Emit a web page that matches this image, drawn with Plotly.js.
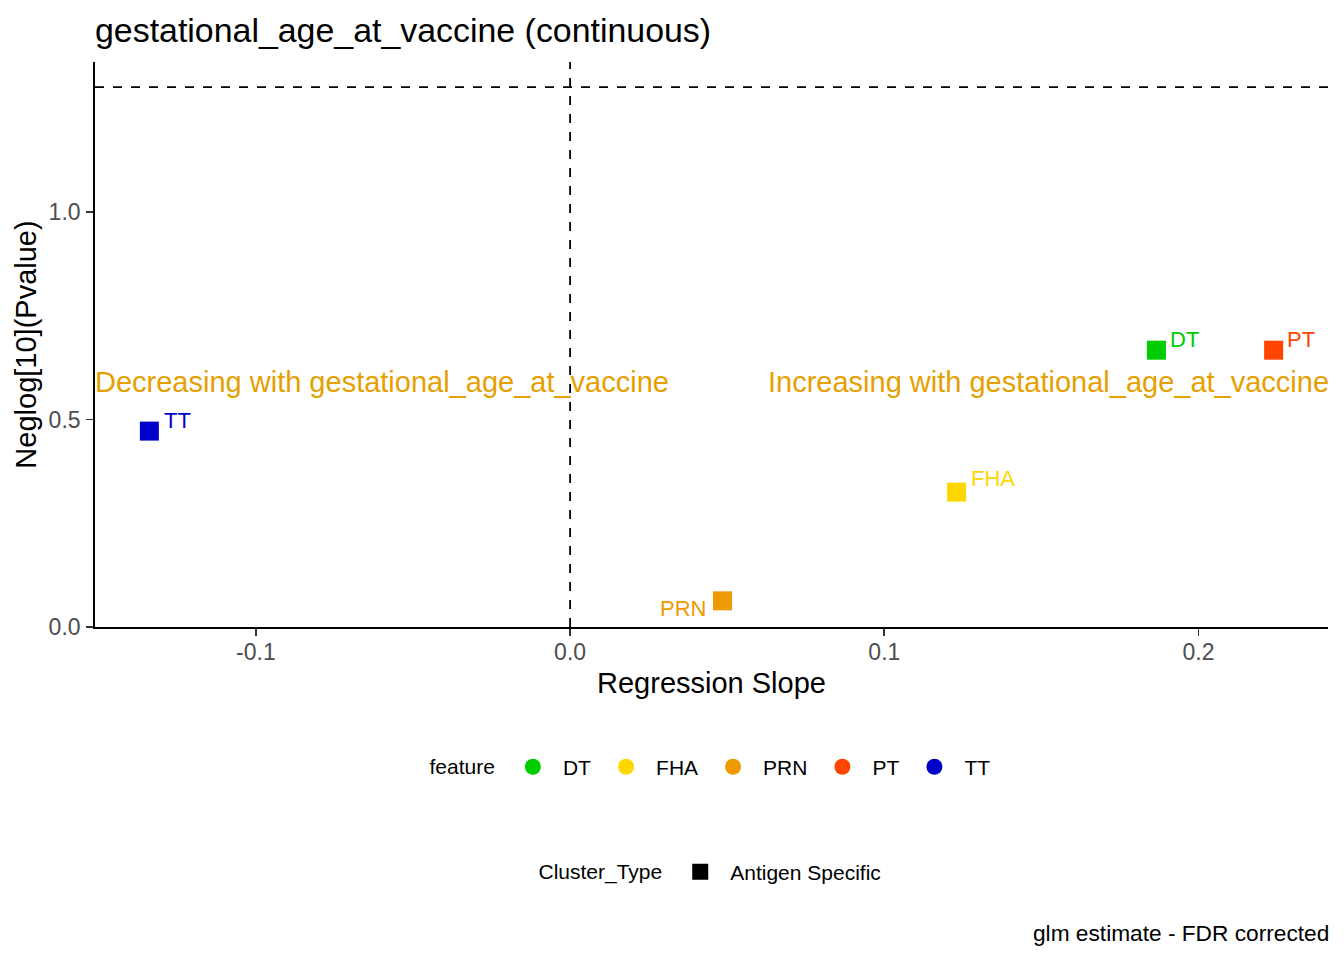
<!DOCTYPE html>
<html><head><meta charset="utf-8">
<script src="https://cdn.plot.ly/plotly-3.0.1.min.js"></script>
<style>html,body{margin:0;padding:0;background:#fff}#chart{width:1344px;height:960px}</style>
</head><body><div id="chart"></div>
<script>
// ---- data ----
const features = ["DT", "FHA", "PRN", "PT", "TT"];
const slopes = [0.1866, 0.1230, 0.0485, 0.2239, -0.1339];
const neglogP = [0.667, 0.325, 0.063, 0.667, 0.472];
const clusterTypes = ["Antigen Specific"];
const xTicks = [-0.1, 0.0, 0.1, 0.2];
const xTickLabels = ["-0.1", "0.0", "0.1", "0.2"];
const yTicks = [0, 0.5, 1.0];
const yTickLabels = ["0.0", "0.5", "1.0"];
const pThreshold = 0.05;
const titleText = "gestational_age_at_vaccine (continuous)";
const variableName = "gestational_age_at_vaccine";
const captionText = "glm estimate - FDR corrected";

// ---- styles ----
const featureColors = {DT: "#00CD00", FHA: "#FFD700", PRN: "#EE9A00", PT: "#FF4500", TT: "#0000CD"};
// label placement (pixel offsets, like ggrepel)
const labelPlacement = {
  DT:  {anchor: "left",  dx: 12, dy: 11},
  FHA: {anchor: "left",  dx: 12, dy: 14},
  PRN: {anchor: "right", dx: -15, dy: -8},
  PT:  {anchor: "left",  dx: 11, dy: 11},
  TT:  {anchor: "left",  dx: 13, dy: 11}
};
const FONT = "Liberation Sans, Arial, sans-serif";
const annoColor = "#E69F00";

const traces = [];
features.forEach((f, i) => {
  traces.push({
    type: "scatter", mode: "markers",
    x: [slopes[i]], y: [neglogP[i]],
    marker: {symbol: "square", size: 19, color: featureColors[f]},
    showlegend: false, hoverinfo: "skip"
  });
});
// legend entries for feature (circles)
features.forEach(f => {
  traces.push({
    type: "scatter", mode: "markers", x: [null], y: [null], name: f,
    marker: {symbol: "circle", size: 16, color: featureColors[f]},
    legend: "legend", showlegend: true
  });
});
// legend entries for Cluster_Type
clusterTypes.forEach(c => {
  traces.push({
    type: "scatter", mode: "markers", x: [null], y: [null], name: c,
    marker: {symbol: "square", size: 16, color: "#000"},
    legend: "legend2", showlegend: true
  });
});

const annotations = features.map((f, i) => ({
  x: slopes[i], y: neglogP[i], xref: "x", yref: "y",
  text: f, showarrow: false,
  xanchor: labelPlacement[f].anchor, yanchor: "middle",
  xshift: labelPlacement[f].dx, yshift: labelPlacement[f].dy,
  font: {family: FONT, size: 22, color: featureColors[f]}
}));
annotations.push({
  xref: "paper", x: 0, xanchor: "left", yref: "y", y: 0.59, yanchor: "middle", xshift: -2,
  text: "Decreasing with " + variableName, showarrow: false,
  font: {family: FONT, size: 29, color: annoColor}
});
annotations.push({
  xref: "paper", x: 1, xanchor: "right", yref: "y", y: 0.59, yanchor: "middle", xshift: 3,
  text: "Increasing with " + variableName, showarrow: false,
  font: {family: FONT, size: 29, color: annoColor}
});
annotations.push({
  xref: "paper", x: 1, xanchor: "right", yref: "paper", y: -0.542, yanchor: "middle", xshift: 3,
  text: captionText, showarrow: false,
  font: {family: FONT, size: 22.7, color: "#000"}
});

const thr = -Math.log10(pThreshold);
const layout = {
  width: 1344, height: 960,
  paper_bgcolor: "#fff", plot_bgcolor: "#fff",
  margin: {l: 95, r: 16, t: 62, b: 333},
  font: {family: FONT, color: "#000"},
  title: {text: titleText, xref: "paper", x: 0, xanchor: "left",
          yref: "container", y: 0.969, yanchor: "middle",
          font: {family: FONT, size: 33.9, color: "#000"}},
  xaxis: {
    range: [-0.1512, 0.2412], tickvals: xTicks, ticktext: xTickLabels,
    showgrid: false, zeroline: false, showline: true, linecolor: "#000", linewidth: 1.8,
    ticks: "outside", ticklen: 7, tickwidth: 1.8, tickcolor: "#333",
    ticklabelstandoff: -3,
    tickfont: {family: FONT, size: 23, color: "#4D4D4D"},
    title: {text: "Regression Slope", font: {family: FONT, size: 29, color: "#000"}, standoff: 8}
  },
  yaxis: {
    range: [0, 1.3614], tickvals: yTicks, ticktext: yTickLabels,
    showgrid: false, zeroline: false, showline: true, linecolor: "#000", linewidth: 1.8,
    ticks: "outside", ticklen: 7, tickwidth: 1.8, tickcolor: "#333",
    ticklabelstandoff: 1,
    tickfont: {family: FONT, size: 23, color: "#4D4D4D"},
    title: {text: "Neglog[10](Pvalue)", font: {family: FONT, size: 29, color: "#000"}, standoff: 3}
  },
  shapes: [
    {type: "line", xref: "x", x0: 0, x1: 0, yref: "paper", y0: 0, y1: 1,
     line: {color: "#000", width: 1.8, dash: "dash"}},
    {type: "line", xref: "paper", x0: 0, x1: 1, yref: "y", y0: thr, y1: thr,
     line: {color: "#000", width: 1.8, dash: "dash"}}
  ],
  annotations: annotations,
  legend: {orientation: "h", x: 0.5, xanchor: "center", y: -0.248, yanchor: "middle",
           itemwidth: 50,
           title: {text: "feature", side: "left", font: {family: FONT, size: 21, color: "#000"}},
           font: {family: FONT, size: 21, color: "#000"}, bgcolor: "rgba(0,0,0,0)"},
  legend2: {orientation: "h", x: 0.5, xanchor: "center", y: -0.434, yanchor: "middle",
           itemwidth: 50,
           title: {text: "Cluster_Type", side: "left", font: {family: FONT, size: 21, color: "#000"}},
           font: {family: FONT, size: 21, color: "#000"}, bgcolor: "rgba(0,0,0,0)"},
  showlegend: true
};

Plotly.newPlot("chart", traces, layout, {displayModeBar: false, staticPlot: true});
</script>
</body></html>
